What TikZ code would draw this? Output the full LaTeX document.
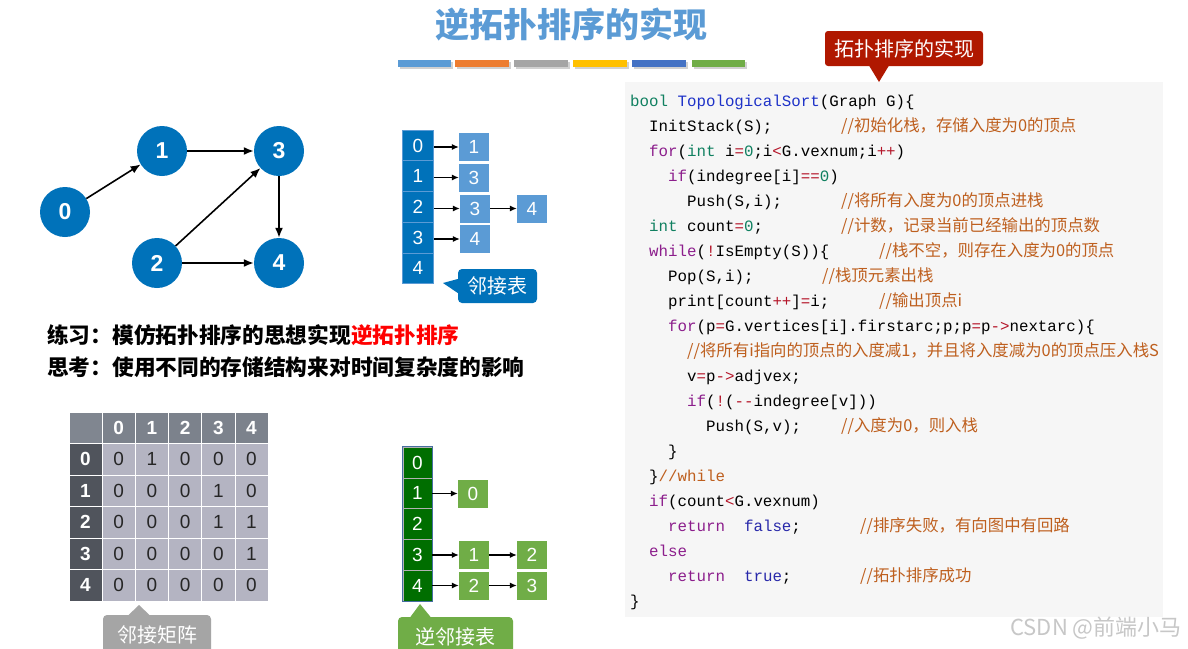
\documentclass[tikz,border=0pt]{standalone}
\usepackage{fontspec}
\setmainfont{Liberation Sans}
\newfontfamily\cjk{Noto Sans CJK SC}
\newfontfamily\codefont{Liberation Mono}
\usetikzlibrary{arrows.meta}
\definecolor{nodeblue}{RGB}{0,114,186}
\definecolor{liteblue}{RGB}{91,155,213}
\definecolor{dkgreen}{RGB}{0,110,0}
\definecolor{ltgreen}{RGB}{112,173,71}
\definecolor{mhead}{RGB}{124,130,140}
\definecolor{mside}{RGB}{80,84,92}
\definecolor{mcorner}{RGB}{128,134,144}
\definecolor{mbody}{RGB}{180,180,194}
\definecolor{calred}{RGB}{176,24,0}
\definecolor{calgray}{RGB}{165,165,165}
\definecolor{codebg}{RGB}{246,246,246}
\definecolor{kwc}{RGB}{140,30,140}
\definecolor{tyc}{RGB}{16,128,96}
\definecolor{fnc}{RGB}{30,50,200}
\definecolor{opc}{RGB}{180,20,40}
\definecolor{blc}{RGB}{40,40,170}
\definecolor{cmc}{RGB}{190,95,30}
\definecolor{barA}{RGB}{91,155,213}
\definecolor{barB}{RGB}{237,125,49}
\definecolor{barC}{RGB}{165,165,165}
\definecolor{barD}{RGB}{255,192,0}
\definecolor{barE}{RGB}{68,114,196}
\definecolor{barF}{RGB}{112,173,71}
\definecolor{gline}{RGB}{70,110,160}
\newcommand\cdKw[1]{\textcolor{kwc}{#1}}
\newcommand\cdTy[1]{\textcolor{tyc}{#1}}
\newcommand\cdFn[1]{\textcolor{fnc}{#1}}
\newcommand\cdOp[1]{\textcolor{opc}{#1}}
\newcommand\cdBl[1]{\textcolor{blc}{#1}}
\newcommand\cdCm[1]{\textcolor{cmc}{#1}}
\tikzset{
  gnode/.style={circle,fill=nodeblue,minimum size=50pt,inner sep=0pt,text=white,font=\fontsize{23}{23}\selectfont\bfseries},
  garrow/.style={-{Latex[length=10pt,width=8pt]},line width=1.6pt},
  larrow/.style={-{Latex[length=7pt,width=6pt]},line width=1.1pt},
  acell/.style={rectangle,fill=nodeblue,draw=liteblue,line width=0.8pt,minimum width=31pt,minimum height=30.7pt,inner sep=0pt,text=white,font=\fontsize{19}{19}\selectfont},
  lnode/.style={rectangle,fill=liteblue,minimum width=30pt,minimum height=28pt,inner sep=0pt,text=white,font=\fontsize{19}{19}\selectfont},
  gcell/.style={rectangle,fill=dkgreen,draw=gray!60,line width=0.8pt,minimum width=29pt,minimum height=30.8pt,inner sep=0pt,text=white,font=\fontsize{19}{19}\selectfont},
  gnodeb/.style={rectangle,fill=ltgreen,minimum width=30pt,minimum height=28pt,inner sep=0pt,text=white,font=\fontsize{19}{19}\selectfont},
  mcell/.style={rectangle,draw=white,line width=0.8pt,minimum width=33.2pt,minimum height=31.5pt,inner sep=0pt,font=\fontsize{19}{19}\selectfont},
  calbox/.style={rectangle,rounded corners=4pt,inner sep=0pt,text=white,font=\cjk\fontsize{20}{20}\selectfont},
  code/.style={anchor=base west,inner sep=0pt,font=\codefont\fontsize{15.8}{16}\selectfont},
  cmt/.style={anchor=base west,inner sep=0pt,text=cmc,font=\cjk\fontsize{16.4}{16}\selectfont},
}
\begin{document}
\begin{tikzpicture}[x=1pt,y=-1pt]
\clip (0,0) rectangle (1188,648);
\fill[white] (0,0) rectangle (1188,648);
% title
\node[inner sep=0pt,text=liteblue,font=\cjk\bfseries\fontsize{34}{34}\selectfont] (title) at (571,24) {逆拓扑排序的实现};
% colour bars
\foreach \xa/\xb/\cl in {398/451/barA,455/509/barB,514/568/barC,573/627/barD,632/686/barE,692/745/barF}{
  \fill[black!18] (\xa+1.5,61.5) rectangle (\xb+1.5,69);
  \fill[\cl] (\xa,60) rectangle (\xb,67);
}
% graph
\node[gnode] (g0) at (65,212) {0};
\node[gnode] (g1) at (162,151) {1};
\node[gnode] (g3) at (279,151) {3};
\node[gnode] (g2) at (157,263) {2};
\node[gnode] (g4) at (279,263) {4};
\draw[garrow] (g0) -- (g1);
\draw[garrow] (g1) -- (g3);
\draw[garrow] (g2) -- (g3);
\draw[garrow] (g2) -- (g4);
\draw[garrow] (g3) -- (g4);
% adjacency list
\foreach \k in {0,...,4}{
  \node[acell] (a\k) at (418,{145.5+30.7*\k}) {\k};
}
\node[lnode] (l0) at (474,147) {1};
\node[lnode] (l1) at (474,177.5) {3};
\node[lnode] (l2) at (475,208.5) {3};
\node[lnode] (l2b) at (532,208.5) {4};
\node[lnode] (l3) at (475,239) {4};
\draw[larrow] (a0.east|-l0) -- (l0.west);
\draw[larrow] (a1.east|-l1) -- (l1.west);
\draw[larrow] (a2.east|-l2) -- (l2.west);
\draw[larrow] (l2.east) -- (l2b.west);
\draw[larrow] (a3.east|-l3) -- (l3.west);
\node[calbox,fill=nodeblue,minimum width=79pt,minimum height=34pt] (cb) at (497.5,286) {邻接表};
\coordinate (cbt) at (443,283);
\fill[nodeblue] ([yshift=7pt]cb.west) -- (cbt) -- ([yshift=-7pt]cb.west) -- cycle;
% practice text
\node[anchor=west,inner sep=0pt,font=\cjk\bfseries\fontsize{21.7}{22}\selectfont] (p1) at (47,335) {练习：模仿拓扑排序的思想实现\textcolor{red}{逆拓扑排序}};
\node[anchor=west,inner sep=0pt,font=\cjk\bfseries\fontsize{21.7}{22}\selectfont] (p2) at (47,367) {思考：使用不同的存储结构来对时间复杂度的影响};
% adjacency matrix
\node[mcell,fill=mcorner] (mc) at (85.5,427.75) {};
\foreach \c in {0,...,4}{
  \node[mcell,fill=mhead,text=white,font=\fontsize{19}{19}\selectfont\bfseries] (mh\c) at ({118.7+33.2*\c},427.75) {\c};
}
\foreach \r/\vals in {0/{0,1,0,0,0},1/{0,0,0,1,0},2/{0,0,0,1,1},3/{0,0,0,0,1},4/{0,0,0,0,0}}{
  \node[mcell,fill=mside,text=white,font=\fontsize{19}{19}\selectfont\bfseries] (ms\r) at (85.5,{459.25+31.5*\r}) {\r};
  \foreach \v [count=\c from 0] in \vals {
    \node[mcell,fill=mbody,text=black!85] (m\r\c) at ({118.7+33.2*\c},{459.25+31.5*\r}) {\v};
  }
}
\node[calbox,fill=calgray,minimum width=108pt,minimum height=44pt] (cg) at (157,637) {\raisebox{5pt}{邻接矩阵}};
\coordinate (cgt) at (139,605);
\fill[calgray] (128,615.5) -- (cgt) -- (150,615.5) -- cycle;
% inverse adjacency list
\foreach \k in {0,...,4}{
  \node[gcell] (r\k) at (417.5,{462.5+30.8*\k}) {\k};
}
\draw[gline,line width=0.8pt] (r0.north west) rectangle (r4.south east);
\node[gnodeb] (n1) at (473,493.5) {0};
\node[gnodeb] (n3) at (474,555) {1};
\node[gnodeb] (n3b) at (532,555) {2};
\node[gnodeb] (n4) at (474,585.5) {2};
\node[gnodeb] (n4b) at (532,585.5) {3};
\draw[larrow] (r1.east|-n1) -- (n1.west);
\draw[larrow] (r3.east|-n3) -- (n3.west);
\draw[larrow] (n3.east) -- (n3b.west);
\draw[larrow] (r4.east|-n4) -- (n4.west);
\draw[larrow] (n4.east) -- (n4b.west);
\node[calbox,fill=ltgreen,minimum width=115pt,minimum height=44pt] (cgr) at (455.5,639) {\raisebox{5pt}{逆邻接表}};
\coordinate (cgrt) at (420,604);
\fill[ltgreen] (410,617.5) -- (cgrt) -- (431,617.5) -- cycle;
% code panel
\fill[codebg] (625,82) rectangle (1163,617);
\node[calbox,fill=calred,minimum width=158pt,minimum height=35pt,rounded corners=3pt] (cr) at (904,48.5) {拓扑排序的实现};
\coordinate (crt) at (879,82);
\fill[calred] (869,65.5) -- (crt) -- (889,65.5) -- cycle;
% code lines
\node[code] (c1) at (630,106) {\cdTy{bool} \cdFn{TopologicalSort}(Graph G)\{};
\node[code] (c2) at (649,131) {InitStack(S);};
\node[cmt] (k2) at (841,131) {//初始化栈，存储入度为0的顶点};
\node[code] (c3) at (649,156) {\cdKw{for}(\cdTy{int} i\cdOp{=}\cdTy{0};i\cdOp{<}G.vexnum;i\cdOp{++})};
\node[code] (c4) at (668,181) {\cdKw{if}(indegree[i]\cdOp{==}\cdTy{0})};
\node[code] (c5) at (687,206) {Push(S,i);};
\node[cmt] (k5) at (841,206) {//将所有入度为0的顶点进栈};
\node[code] (c6) at (649,231) {\cdTy{int} count\cdOp{=}\cdTy{0};};
\node[cmt] (k6) at (841,231) {//计数，记录当前已经输出的顶点数};
\node[code] (c7) at (649,256) {\cdKw{while}(\cdOp{!}IsEmpty(S))\{};
\node[cmt] (k7) at (879,256) {//栈不空，则存在入度为0的顶点};
\node[code] (c8) at (668,281) {Pop(S,i);};
\node[cmt] (k8) at (822,281) {//栈顶元素出栈};
\node[code] (c9) at (668,306) {print[count\cdOp{++}]\cdOp{=}i;};
\node[cmt] (k9) at (879,306) {//输出顶点i};
\node[code] (c10) at (668,331) {\cdKw{for}(p\cdOp{=}G.vertices[i].firstarc;p;p\cdOp{=}p\cdOp{->}nextarc)\{};
\node[cmt] (k11) at (687,356) {//将所有i指向的顶点的入度减1，并且将入度减为0的顶点压入栈S};
\node[code] (c12) at (687,381) {v\cdOp{=}p\cdOp{->}adjvex;};
\node[code] (c13) at (687,406) {\cdKw{if}(\cdOp{!}(\cdOp{-{}-}indegree[v]))};
\node[code] (c14) at (706,431) {Push(S,v);};
\node[cmt] (k14) at (841,431) {//入度为0，则入栈};
\node[code] (c15) at (668,456) {\}};
\node[code] (c16) at (649,481) {\}\cdCm{//while}};
\node[code] (c17) at (649,506) {\cdKw{if}(count\cdOp{<}G.vexnum)};
\node[code] (c18) at (668,531) {\cdKw{return}~~\cdBl{false};};
\node[cmt] (k18) at (860,531) {//排序失败，有向图中有回路};
\node[code] (c19) at (649,556) {\cdKw{else}};
\node[code] (c20) at (668,581) {\cdKw{return}~~\cdBl{true};};
\node[cmt] (k20) at (860,581) {//拓扑排序成功};
\node[code] (c21) at (630,606) {\}};
% watermark
\node[inner sep=0pt,text=black!22,font=\cjk\fontsize{22}{22}\selectfont] (wm) at (1096,628) {CSDN @前端小马};
\end{tikzpicture}
\end{document}
